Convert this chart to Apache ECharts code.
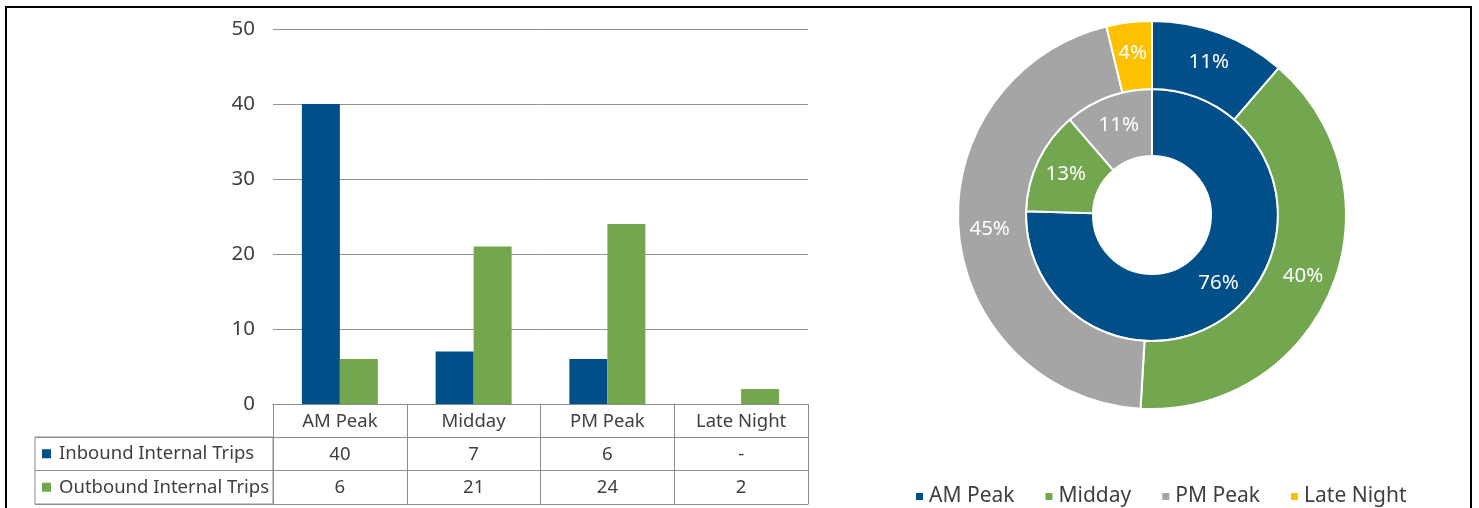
<!DOCTYPE html>
<html>
<head>
<meta charset="utf-8">
<script src="https://cdn.jsdelivr.net/npm/echarts@6/dist/echarts.min.js"></script>
<style>
  body { margin: 0; background: #fff; }
  #main { width: 1479px; height: 508px; }
  #frame { position: absolute; left: 5px; top: 6px; width: 1467px; height: 510px; border: 2px solid #000; box-sizing: border-box; pointer-events: none; }
</style>
</head>
<body>
<div id="main"></div>
<div id="frame"></div>
<script>
var periods = ['AM Peak', 'Midday', 'PM Peak', 'Late Night']
var inboundTrips = [40, 7, 6, 0]
var outboundTrips = [6, 21, 24, 2]
var rowNames = ['Inbound Internal Trips', 'Outbound Internal Trips']
var yTicks = { min: 0, max: 50, interval: 10 }

var colors = ['#004f88', '#72a74f', '#a5a5a5', '#ffc000']
var txt = '#404040'
var lineGray = '#8c8c8c'
var font = 'Noto Sans'

var chart = echarts.init(document.getElementById('main'))

// pie slices built from the same numbers as the bars
function pieData(arr) {
    var out = []
    for (var i = 0; i < periods.length; i++) {
        out.push({ name: periods[i], value: arr[i] })
    }
    return out
}

var cellLabel = { fontSize: 18.5, color: txt, fontFamily: font, margin: 8, interval: 0 }

var option = {
    color: colors,
    textStyle: { fontFamily: font },
    grid: [
        { left: 273, width: 535, top: 29, bottom: 104 },
        // row header column of the data table
        { left: 35, width: 238, top: 437, height: 67, show: true, borderColor: lineGray, borderWidth: 1 }
    ],
    legend: {
        data: periods,
        left: 909,
        top: 481,
        icon: 'rect',
        itemWidth: 9,
        itemHeight: 9,
        itemGap: 29,
        textStyle: { fontSize: 21, color: txt, fontFamily: font }
    },
    xAxis: [
        {
            type: 'category', gridIndex: 0, data: periods,
            axisLine: { lineStyle: { color: lineGray } },
            axisTick: { show: true, length: 100, interval: 0, lineStyle: { color: lineGray } },
            axisLabel: cellLabel
        },
        {
            type: 'category', gridIndex: 0, data: inboundTrips, position: 'bottom', offset: 33,
            axisLine: { lineStyle: { color: lineGray } },
            axisTick: { show: false },
            axisLabel: Object.assign({}, cellLabel, { formatter: function (v) { return v == 0 ? '-' : v } })
        },
        {
            type: 'category', gridIndex: 0, data: outboundTrips, position: 'bottom', offset: 66,
            axisLine: { lineStyle: { color: lineGray } },
            axisTick: { show: false },
            axisLabel: cellLabel
        },
        {
            type: 'category', gridIndex: 0, data: periods, position: 'bottom', offset: 100,
            axisLine: { lineStyle: { color: lineGray } },
            axisTick: { show: false },
            axisLabel: { show: false }
        },
        { type: 'value', gridIndex: 1, show: false }
    ],
    yAxis: [
        {
            type: 'value', gridIndex: 0,
            min: yTicks.min, max: yTicks.max, interval: yTicks.interval,
            axisLine: { show: false },
            axisTick: { show: false },
            axisLabel: { fontSize: 20.5, color: txt, fontFamily: font, margin: 18 },
            splitLine: { lineStyle: { color: '#939393' } }
        },
        {
            type: 'category', gridIndex: 1, data: rowNames, inverse: true,
            axisLine: { show: false },
            axisTick: { show: false },
            splitLine: { show: true, lineStyle: { color: lineGray } },
            axisLabel: {
                inside: true, margin: 7, fontSize: 18.5, color: txt, fontFamily: font,
                formatter: function (v, i) { return '{s' + i + '|}{t|' + v + '}' },
                rich: {
                    s0: { width: 9, height: 9, backgroundColor: colors[0] },
                    s1: { width: 9, height: 9, backgroundColor: colors[1] },
                    t: { fontSize: 18.5, color: txt, fontFamily: font, padding: [0, 0, 0, 8] }
                }
            }
        }
    ],
    series: [
        {
            name: rowNames[0], type: 'bar', xAxisIndex: 0, yAxisIndex: 0,
            data: inboundTrips, barWidth: 38, barGap: 0, itemStyle: { color: colors[0] }
        },
        {
            name: rowNames[1], type: 'bar', xAxisIndex: 0, yAxisIndex: 0,
            data: outboundTrips, barWidth: 38, barGap: 0, itemStyle: { color: colors[1] }
        },
        {
            name: 'Inbound', type: 'pie', center: [1152, 215], radius: [59, 126],
            startAngle: 90, clockwise: true, percentPrecision: 0, silent: true,
            itemStyle: { borderColor: '#fff', borderWidth: 2 },
            label: {
                position: 'inside', color: '#fff', fontSize: 20.5, fontFamily: font,
                formatter: function (p) { return p.value ? p.percent + '%' : '' }
            },
            labelLine: { show: false },
            data: pieData(inboundTrips)
        },
        {
            name: 'Outbound', type: 'pie', center: [1152, 215], radius: [126, 194],
            startAngle: 90, clockwise: true, percentPrecision: 0, silent: true,
            itemStyle: { borderColor: '#fff', borderWidth: 2 },
            label: {
                position: 'inside', color: '#fff', fontSize: 20.5, fontFamily: font,
                formatter: function (p) { return p.value ? p.percent + '%' : '' }
            },
            labelLine: { show: false },
            data: pieData(outboundTrips)
        }
    ]
}

chart.setOption(option)
</script>
</body>
</html>
